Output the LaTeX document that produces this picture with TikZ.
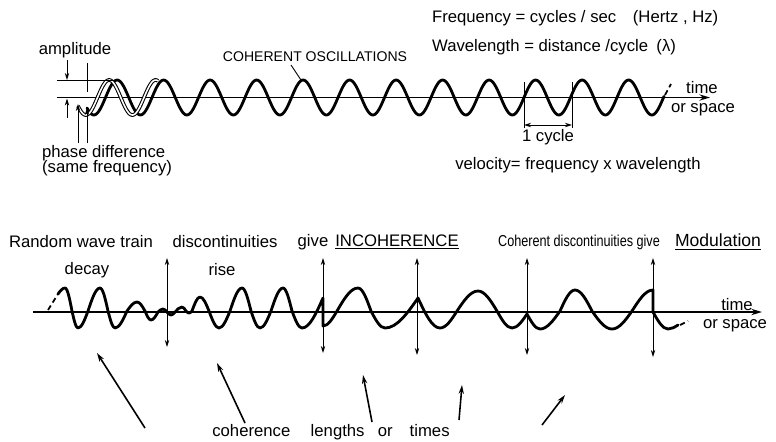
\documentclass[tikz,border=0pt]{standalone}
\usepackage{fontspec}
\setmainfont{Liberation Sans}
\usetikzlibrary{arrows.meta}

\tikzset{
	lbl/.style={font=\fontsize{9.5}{11}\selectfont, inner sep=1pt},
	wave/.style={line width=1.6pt, line join=round, line cap=round},
	axis/.style={line width=1.1pt, -{Stealth[length=6pt,width=3.5pt]}},
	thinline/.style={line width=0.5pt},
	marker/.style={line width=0.5pt, {Stealth[length=4pt,width=2.5pt]}-{Stealth[length=4pt,width=2.5pt]}},
	pointer/.style={line width=0.5pt, -{Stealth[length=4pt,width=2.5pt]}},
	cohpointer/.style={line width=0.9pt, -{Stealth[length=5pt,width=3pt]}},
}

\begin{document}
\begin{tikzpicture}[x=0.02cm, y=-0.02cm]

		\useasboundingbox (0,0) rectangle (776,441);

		% coherent oscillations
		\node[lbl, anchor=west] (freq) at (430,18) {Frequency = cycles / sec\quad (Hertz , Hz)};
		\node[lbl, anchor=west] (wavel) at (430,47) {Wavelength = distance /cycle\enspace (λ)};
		\node[lbl] (amp) at (75,50) {amplitude};
		\node[lbl, font=\fontsize{8}{10}\selectfont] (coh) at (315,57) {COHERENT OSCILLATIONS};

		\coordinate (axl) at (57,97.5);
		\coordinate (axr) at (710,97.5);
		\draw[axis] (axl) -- (axr);
		\node[lbl] (time1) at (702,88) {time};
		\node[lbl] (space1) at (703,110) {or space};

		\draw[wave] plot[domain=87:664, samples=400] (\x, {97.5-17.5*sin(7.742*(\x-524))});
		\draw[double, line width=0.6pt, double distance=0.9pt] plot[domain=78:158, samples=80] (\x, {97.5-17.5*sin(7.742*(\x-516))});
		\draw[line width=1pt, dash pattern=on 3pt off 2pt] (665,95) -- (671,84);

		\coordinate (cohfoot) at (291,65);
		\coordinate (cohtip) at (301,80);
		\draw[thinline] (cohfoot) -- (cohtip);

		\coordinate (ampl) at (57,80);
		\coordinate (ampr) at (113,80);
		\draw[thinline] (ampl) -- (ampr);
		\coordinate (amptop) at (67,60);
		\coordinate (ampbot) at (67,118);
		\draw[pointer] (amptop) -- (67,80);
		\draw[pointer] (ampbot) -- (67,98.5);
		\draw[thinline] (87,63) -- (87,92);

		\coordinate (ph1) at (78,143);
		\coordinate (ph2) at (87,143);
		\draw[pointer] (ph1) -- (78,104);
		\draw[pointer] (ph2) -- (87,108);
		\node[lbl, anchor=west] (phase) at (40,153) {phase difference};
		\node[lbl, anchor=west] (samef) at (40,168) {(same frequency)};

		\coordinate (cyl) at (524,125);
		\coordinate (cyr) at (572,125);
		\draw[thinline] (524,82) -- (524,128) (572,82) -- (572,128);
		\draw[marker] (cyl) -- (cyr);
		\node[lbl] (cycle) at (548,137) {1 cycle};
		\node[lbl] (vel) at (578,165) {velocity= frequency x wavelength};

		% random wave train
		\node[lbl] (rwt) at (81,242) {Random wave train};
		\node[lbl] (disc) at (225,242) {discontinuities};
		\node[lbl] (give) at (313,242) {give};
		\node[lbl] (incoh) at (397,242) {\underline{INCOHERENCE}};
		\node[lbl, font=\fontsize{9}{11}\selectfont] (cdisc) at (579,242) {\scalebox{0.8}[1]{Coherent discontinuities give}};
		\node[lbl, font=\fontsize{10}{12}\selectfont] (modul) at (718,242) {\underline{Modulation}};
		\node[lbl] (decay) at (87,270) {decay};
		\node[lbl] (rise) at (222,270) {rise};

		\coordinate (bxl) at (33,312);
		\coordinate (bxr) at (762,312);
		\draw[axis] (bxl) -- (bxr);
		\node[lbl] (time2) at (737,305) {time};
		\node[lbl] (space2) at (735,326) {or space};

		\draw[line width=1pt, dash pattern=on 3pt off 2pt] (48,310) -- (58,294);
		\draw[wave] (58,294) sin (65,288) cos (72,311) sin (78,328) cos (88,311) sin (100,288) cos (108,311) sin (115,328) cos (127,311) sin (137,302) cos (145,311) sin (151,320) cos (158,312) sin (163,309) cos (167,312) sin (171,315) cos (175,312) sin (182,307) cos (186,311) sin (189,313) cos (192,311) sin (200,297) cos (209,311) sin (219,328) cos (230,311) sin (242,288) cos (251,311) sin (260,328) cos (271,311) sin (283,288) cos (292,311) sin (302,328) cos (323,298)
			-- (323,326) cos (337,311) sin (358,288) cos (371,311) sin (385,328) cos (418,298) sin (440,328) cos (457,311) sin (478,291) cos (497,311) sin (512,328) cos (527,314) sin (540,329) cos (560,311) sin (575,290) cos (592,311) sin (612,329) cos (632,311) sin (653,290)
			-- (653,312) sin (668,329) cos (678,325);
		\draw[line width=1pt, dash pattern=on 3pt off 2pt] (680,325) -- (688,321);

		\foreach \xx/\yb [count=\i] in {167/347, 323/353, 417/355, 527/355, 653/357} {
			\coordinate (dtop\i) at (\xx,258);
			\coordinate (dbot\i) at (\xx,\yb);
			\draw[marker] (dtop\i) -- (dbot\i);
		}

		\node[lbl] (clen) at (331,432) {coherence\hspace{9pt} lengths\hspace{5pt} or\hspace{7pt} times};
		\foreach \xa/\ya/\xb/\yb [count=\i] in {145/428/97/353, 245/423/217/363, 372/422/363/375, 459/420/462/385, 542/425/565/395} {
			\coordinate (ctail\i) at (\xa,\ya);
			\coordinate (chead\i) at (\xb,\yb);
			\draw[cohpointer] (ctail\i) -- (chead\i);
		}

\end{tikzpicture}
\end{document}
